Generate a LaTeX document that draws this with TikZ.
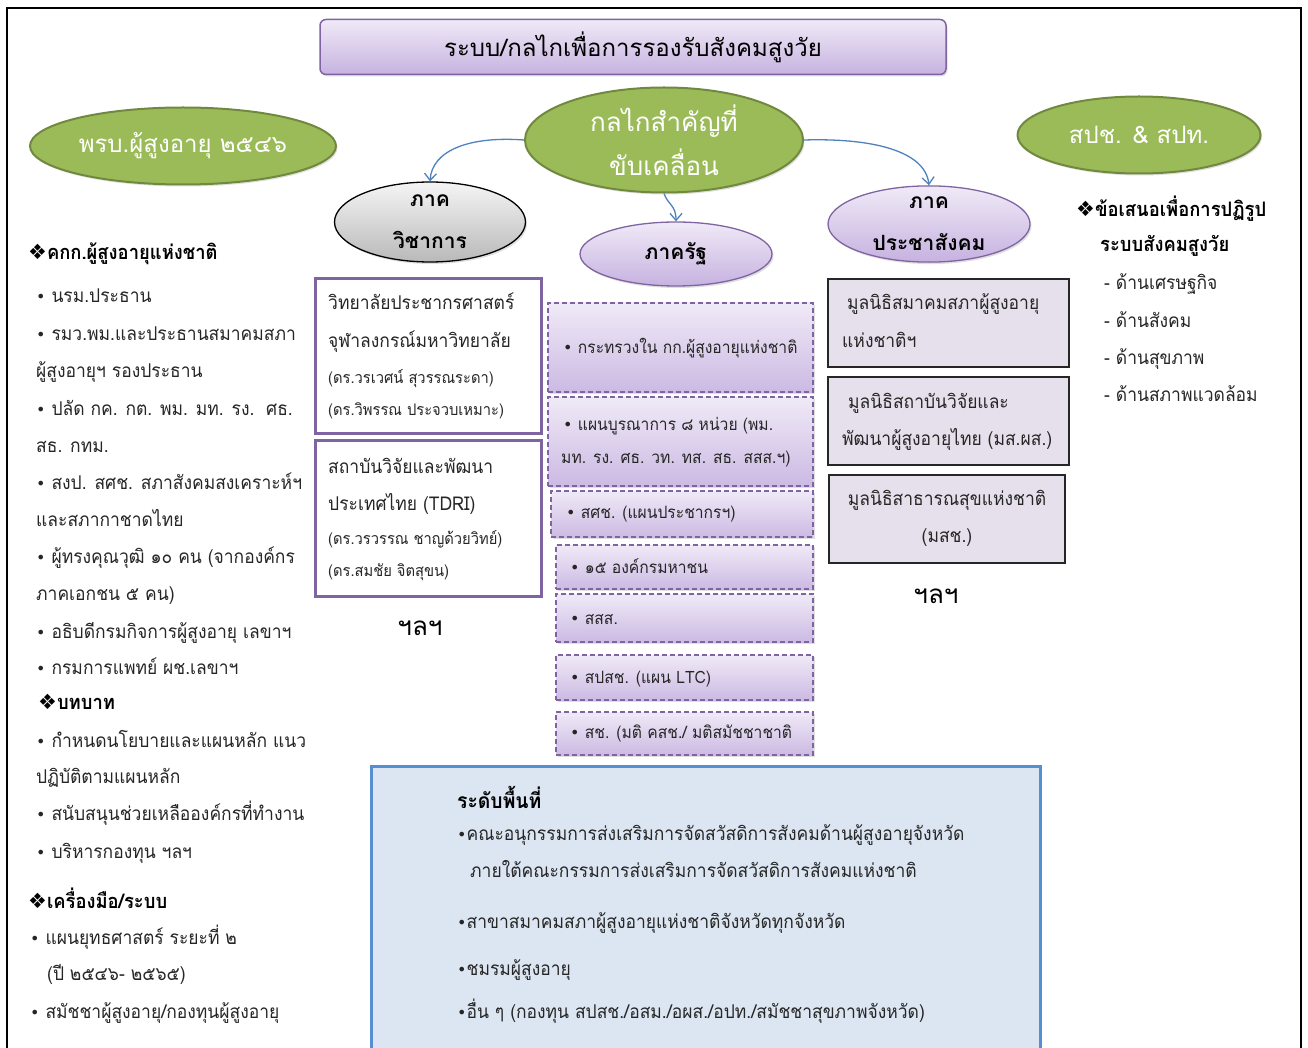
\documentclass[tikz,border=0pt]{standalone}
\usepackage{fontspec}
\setmainfont{Loma}[Script=Thai]
\newfontfamily\nf{Loma}[Script=Thai,FakeStretch=0.92]
\newfontfamily\dingfont{DejaVu Sans}
\usetikzlibrary{shapes.geometric,arrows.meta,shadows}
\definecolor{grn}{HTML}{9BBB59}
\definecolor{grnd}{HTML}{71893F}
\definecolor{purp}{HTML}{8064A2}
\definecolor{lavA}{HTML}{F0EAF7}
\definecolor{lavB}{HTML}{C6B2E0}
\definecolor{lavbox}{HTML}{E5E0EC}
\definecolor{arrblue}{HTML}{4F81BD}
\definecolor{bluefill}{HTML}{DCE6F2}
\definecolor{blueline}{HTML}{558ED5}
\definecolor{txt}{HTML}{262626}
\newcommand\bul{{\dingfont\fontsize{16}{16}\selectfont•}}
\newcommand\dia{{\dingfont\fontsize{21}{21}\selectfont❖}}
\begin{document}
\begin{tikzpicture}[x=1pt,y=-1pt,
  T/.style={anchor=base west, inner sep=0pt, text=txt, font=\nf\fontsize{19}{19}\selectfont},
  TB/.style={anchor=base west, inner sep=0pt, text=black, font=\nf\fontsize{20}{20}\selectfont\bfseries},
  TS/.style={anchor=base west, inner sep=0pt, text=txt, font=\nf\fontsize{16}{16}\selectfont},
  TD/.style={anchor=base west, inner sep=0pt, text=txt, font=\nf\fontsize{17}{17}\selectfont},
  TL/.style={anchor=base west, inner sep=0pt, text=txt, font=\nf\fontsize{19}{19}\selectfont},
  shd/.style={drop shadow={shadow xshift=1.5pt, shadow yshift=-2pt, opacity=0.25}},
  titlebox/.style={rectangle, rounded corners=6pt, draw=purp, line width=1.5pt, top color=lavA, bottom color=lavB, shd, text=black, font=\fontsize{24}{24}\selectfont},
  greenell/.style={ellipse, draw=grnd, line width=2pt, fill=grn, inner sep=0pt, text=white, align=center, shd},
  lavell/.style={ellipse, draw=purp, line width=1.3pt, top color=lavA, bottom color=lavB, inner sep=0pt, text=black, align=center, font=\fontsize{21}{42}\selectfont\bfseries, shd},
  grayell/.style={ellipse, draw=black, line width=1.3pt, top color=gray!8, bottom color=gray!55, inner sep=0pt, text=black, align=center, font=\fontsize{21}{42}\selectfont\bfseries, shd},
  acbox/.style={rectangle, draw=purp, line width=3pt, fill=white, inner sep=0pt},
  dbox/.style={rectangle, draw=purp, line width=1.3pt, dash pattern=on 5pt off 3pt, top color=lavA, bottom color=lavB!90, inner sep=0pt, shd},
  pbox/.style={rectangle, draw=black!85, line width=1.5pt, fill=lavbox, inner sep=0pt},
  arr/.style={draw=arrblue, line width=1.3pt, -{Straight Barb[length=7pt,width=12pt]}},
]
\useasboundingbox (0,0) rectangle (1308,1048);
% outer frame
\draw[line width=1.5pt, black] (7,1070) -- (7,8) -- (1301,8) -- (1301,1070);

% title
\node[titlebox, minimum width=626pt, minimum height=55pt] (title) at (633,47) {ระบบ/กลไกเพื่อการรองรับสังคมสูงวัย};

% green ellipses
\node[greenell, minimum width=278pt, minimum height=105pt, font=\fontsize{26}{44}\selectfont] (key) at (664,140) {กลไกสำคัญที่\\ขับเคลื่อน};
\node[greenell, minimum width=306pt, minimum height=77pt, font=\fontsize{24}{24}\selectfont] (act) at (183,146) {พรบ.ผู้สูงอายุ ๒๕๔๖};
\node[greenell, minimum width=243pt, minimum height=77pt, font=\fontsize{24}{24}\selectfont] (spc) at (1139,135) {สปช. \& สปท.};

% sector ellipses
\node[grayell, minimum width=191pt, minimum height=80pt] (acad) at (430,222) {ภาค\\วิชาการ};
\node[lavell, minimum width=192pt, minimum height=64pt] (state) at (676,254) {ภาครัฐ};
\node[lavell, minimum width=202pt, minimum height=76pt] (pcs) at (929,224) {ภาค\\ประชาสังคม};

% arrows
\draw[arr] (key.west) .. controls (470,136) and (432,150) .. (acad.north);
\draw[arr] (key.east) .. controls (870,138) and (925,150) .. (pcs.north);
\draw[arr] (key.south) .. controls (668,205) and (676,205) .. (state.north);

% left column
\node[TB] (l0) at (28,260) {\dia คกก.ผู้สูงอายุแห่งชาติ};
\node[TL] (l1) at (36,303) {\bul\ นรม.ประธาน};
\node[TL] (l2) at (36,340) {\bul\ รมว.พม.และประธานสมาคมสภา};
\node[TL] (l3) at (36,377) {ผู้สูงอายุฯ รองประธาน};
\node[TL] (l4) at (36,415) {\bul\ ปลัด กค. กต. พม. มท. รง.\ \ ศธ.};
\node[TL] (l5) at (36,452) {สธ. กทม.};
\node[TL] (l6) at (36,489) {\bul\ สงป. สศช. สภาสังคมสงเคราะห์ฯ};
\node[TL] (l7) at (36,526) {และสภากาชาดไทย};
\node[TL] (l8) at (36,563) {\bul\ ผู้ทรงคุณวุฒิ ๑๐ คน (จากองค์กร};
\node[TL] (l9) at (36,600) {ภาคเอกชน ๕ คน)};
\node[TL] (l10) at (36,638) {\bul\ อธิบดีกรมกิจการผู้สูงอายุ เลขาฯ};
\node[TL] (l11) at (36,674) {\bul\ กรมการแพทย์ ผช.เลขาฯ};
\node[TB] (l12) at (38,709) {\dia บทบาท};
\node[TL] (l13) at (36,747) {\bul\ กำหนดนโยบายและแผนหลัก แนว};
\node[TL] (l14) at (36,783) {ปฏิบัติตามแผนหลัก};
\node[TL] (l15) at (36,820) {\bul\ สนับสนุนช่วยเหลือองค์กรที่ทำงาน};
\node[TL] (l16) at (36,858) {\bul\ บริหารกองทุน ฯลฯ};
\node[TB] (l17) at (28,908) {\dia เครื่องมือ/ระบบ};
\node[TL] (l18) at (30,944) {\bul\ แผนยุทธศาสตร์ ระยะที่ ๒};
\node[TL] (l19) at (47,980) {(ปี ๒๕๔๖- ๒๕๖๕)};
\node[TL] (l20) at (30,1018) {\bul\ สมัชชาผู้สูงอายุ/กองทุนผู้สูงอายุ};

% academic boxes
\node[acbox, minimum width=226pt, minimum height=154pt] (ab1) at (428,356) {};
\node[T] (ab1a) at (328,309) {วิทยาลัยประชากรศาสตร์};
\node[T] (ab1b) at (328,347) {จุฬาลงกรณ์มหาวิทยาลัย};
\node[TS] (ab1c) at (328,383) {(ดร.วรเวศน์ สุวรรณระดา)};
\node[TS] (ab1d) at (328,415) {(ดร.วิพรรณ ประจวบเหมาะ)};
\node[acbox, minimum width=226pt, minimum height=156pt] (ab2) at (428,518) {};
\node[T] (ab2a) at (328,473) {สถาบันวิจัยและพัฒนา};
\node[T] (ab2b) at (328,510) {ประเทศไทย (TDRI)};
\node[TS] (ab2c) at (328,544) {(ดร.วรวรรณ ชาญด้วยวิทย์)};
\node[TS] (ab2d) at (328,576) {(ดร.สมชัย จิตสุขน)};
\node[text=black, font=\fontsize{26}{26}\selectfont, inner sep=0pt] (acetc) at (420,628) {ฯลฯ};

% state boxes
\node[dbox, minimum width=265pt, minimum height=89pt] (s1) at (680.5,347.5) {};
\node[TD] (s1t) at (563,353) {\bul\ กระทรวงใน กก.ผู้สูงอายุแห่งชาติ};
\node[dbox, minimum width=265pt, minimum height=89pt] (s2) at (680.5,441.5) {};
\node[TD] (s2t) at (563,430) {\bul\ แผนบูรณาการ ๘ หน่วย (พม.};
\node[TD] (s2u) at (561,463) {มท. รง. ศธ. วท. ทส. สธ. สสส.ฯ)};
\node[dbox, minimum width=262pt, minimum height=46pt] (s3) at (682,514) {};
\node[TD] (s3t) at (566,518) {\bul\ สศช. (แผนประชากรฯ)};
\node[dbox, minimum width=257pt, minimum height=44pt] (s4) at (684.5,567) {};
\node[TD] (s4t) at (570,573) {\bul\ ๑๕ องค์กรมหาชน};
\node[dbox, minimum width=257pt, minimum height=48pt] (s5) at (684.5,618) {};
\node[TD] (s5t) at (570,624) {\bul\ สสส.};
\node[dbox, minimum width=257pt, minimum height=45pt] (s6) at (684.5,677.5) {};
\node[TD] (s6t) at (570,683) {\bul\ สปสช. (แผน LTC)};
\node[dbox, minimum width=257pt, minimum height=43pt] (s7) at (684.5,733.5) {};
\node[TD] (s7t) at (570,738) {\bul\ สช. (มติ คสช./ มติสมัชชาชาติ};

% civil society boxes
\node[pbox, minimum width=241pt, minimum height=88pt] (p1) at (948.5,323) {};
\node[T] (p1a) at (847,310) {มูลนิธิสมาคมสภาผู้สูงอายุ};
\node[T] (p1b) at (842,347) {แห่งชาติฯ};
\node[pbox, minimum width=241pt, minimum height=88pt] (p2) at (948.5,421) {};
\node[T] (p2a) at (848,408) {มูลนิธิสถาบันวิจัยและ};
\node[T] (p2b) at (842,445) {พัฒนาผู้สูงอายุไทย (มส.ผส.)};
\node[pbox, minimum width=236pt, minimum height=88pt] (p3) at (947,519) {};
\node[T, anchor=base] (p3a) at (947,505) {มูลนิธิสาธารณสุขแห่งชาติ};
\node[T, anchor=base] (p3b) at (947,542) {(มสช.)};
\node[text=black, font=\fontsize{26}{26}\selectfont, inner sep=0pt] (pcetc) at (936,596) {ฯลฯ};

% right column
\node[TB] (r0) at (1076,217) {\dia ข้อเสนอเพื่อการปฏิรูป};
\node[TB] (r1) at (1100,252) {ระบบสังคมสูงวัย};
\node[TL] (r2) at (1104,290) {- ด้านเศรษฐกิจ};
\node[TL] (r3) at (1104,327) {- ด้านสังคม};
\node[TL] (r4) at (1104,364) {- ด้านสุขภาพ};
\node[TL] (r5) at (1104,401) {- ด้านสภาพแวดล้อม};

% area level box
\node[rectangle, draw=blueline, line width=3pt, fill=bluefill, minimum width=669pt, minimum height=300pt, inner sep=0pt] (area) at (705.5,916) {};
\node[TB, font=\nf\fontsize{21}{21}\selectfont\bfseries] (a0) at (457,808) {ระดับพื้นที่};
\node[TL] (a1) at (457,840) {\bul คณะอนุกรรมการส่งเสริมการจัดสวัสดิการสังคมด้านผู้สูงอายุจังหวัด};
\node[TL] (a2) at (470,877) {ภายใต้คณะกรรมการส่งเสริมการจัดสวัสดิการสังคมแห่งชาติ};
\node[TL] (a3) at (457,928) {\bul สาขาสมาคมสภาผู้สูงอายุแห่งชาติจังหวัดทุกจังหวัด};
\node[TL] (a4) at (457,975) {\bul ชมรมผู้สูงอายุ};
\node[TL] (a5) at (457,1018) {\bul อื่น ๆ (กองทุน สปสช./อสม./อผส./อปท./สมัชชาสุขภาพจังหวัด)};
\end{tikzpicture}
\end{document}
